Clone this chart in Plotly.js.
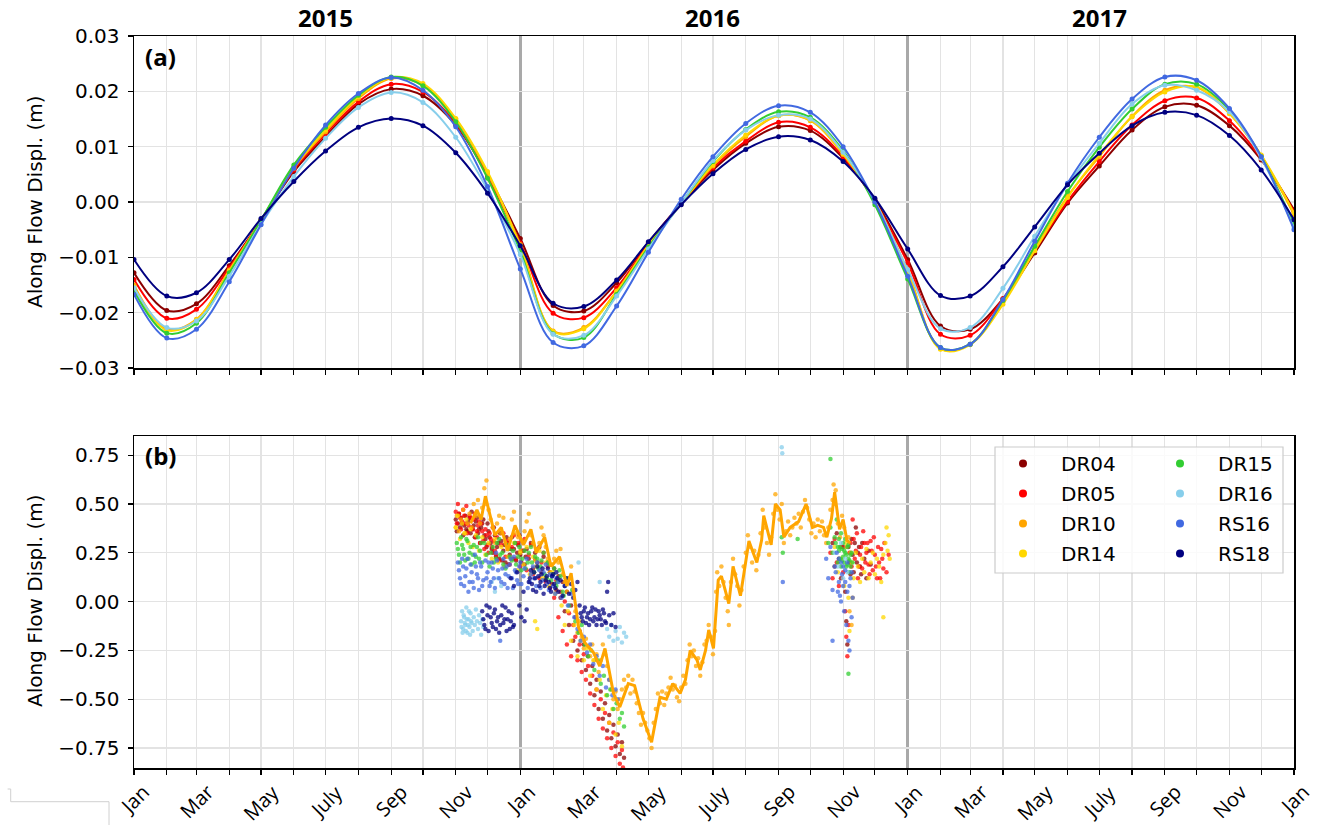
<!DOCTYPE html>
<html><head><meta charset="utf-8">
<script src="https://cdn.plot.ly/plotly-3.0.1.min.js"></script>
<style>body{margin:0;background:#fff}#chart{width:1320px;height:825px}</style>
</head><body><div id="chart"></div>
<script>
// ---------- categories ----------
const stations = ['DR04','DR05','DR10','DR14','DR15','DR16','RS16','RS18'];
const colors = ['#8b0000','#ff0000','#ffa500','#ffd700','#32cd32','#87ceeb','#4169e1','#000080'];
const years = ['2015','2016','2017'];
const yearBreaks = ['2016-01-01','2017-01-01'];
const tickLabels = ['Jan','Mar','May','July','Sep','Nov'];
const monthTicks = [];
for (let y = 2015; y <= 2017; y++) for (let m = 1; m <= 12; m++) monthTicks.push(y + '-' + String(m).padStart(2,'0') + '-01');
monthTicks.push('2018-01-01');

// ---------- panel (a): monthly seasonal displacement (m), Jan 2015 ... Jan 2018 ----------
const a_DR04 = [-0.0128,-0.0196,-0.0184,-0.0115,-0.0033,0.0055,0.0118,0.0177,0.0204,0.0192,0.0139,0.0049,-0.0066,-0.0187,-0.0197,-0.0146,-0.0073,-0.0003,0.0058,0.0106,0.0136,0.0129,0.0079,0.0004,-0.0104,-0.0224,-0.0230,-0.0175,-0.0092,-0.0002,0.0065,0.0130,0.0172,0.0175,0.0138,0.0076,-0.0014];
const a_DR05 = [-0.0140,-0.0210,-0.0194,-0.0119,-0.0033,0.0058,0.0123,0.0181,0.0213,0.0199,0.0142,0.0046,-0.0074,-0.0201,-0.0209,-0.0155,-0.0076,-0.0002,0.0062,0.0110,0.0144,0.0135,0.0082,0.0001,-0.0110,-0.0239,-0.0241,-0.0175,-0.0088,0.0001,0.0073,0.0139,0.0183,0.0188,0.0147,0.0079,-0.0017];
const a_DR10 = [-0.0150,-0.0230,-0.0212,-0.0123,-0.0033,0.0061,0.0127,0.0187,0.0223,0.0211,0.0150,0.0052,-0.0077,-0.0233,-0.0227,-0.0161,-0.0078,-0.0003,0.0065,0.0118,0.0156,0.0147,0.0086,0.0001,-0.0125,-0.0265,-0.0257,-0.0180,-0.0085,0.0010,0.0082,0.0155,0.0202,0.0207,0.0160,0.0084,-0.0023];
const a_DR14 = [-0.0153,-0.0232,-0.0213,-0.0125,-0.0033,0.0063,0.0130,0.0190,0.0225,0.0214,0.0151,0.0055,-0.0080,-0.0234,-0.0229,-0.0162,-0.0079,-0.0003,0.0067,0.0121,0.0156,0.0148,0.0087,0.0001,-0.0127,-0.0266,-0.0258,-0.0185,-0.0088,0.0008,0.0085,0.0154,0.0199,0.0208,0.0160,0.0085,-0.0020];
const a_DR15 = [-0.0160,-0.0237,-0.0219,-0.0128,-0.0033,0.0067,0.0135,0.0193,0.0226,0.0210,0.0145,0.0043,-0.0089,-0.0238,-0.0245,-0.0167,-0.0082,-0.0002,0.0073,0.0131,0.0163,0.0153,0.0093,-0.0005,-0.0139,-0.0263,-0.0257,-0.0178,-0.0080,0.0019,0.0099,0.0168,0.0213,0.0213,0.0166,0.0082,-0.0041];
const a_DR16 = [-0.0155,-0.0227,-0.0215,-0.0134,-0.0040,0.0046,0.0115,0.0171,0.0198,0.0180,0.0117,0.0022,-0.0095,-0.0239,-0.0241,-0.0170,-0.0085,-0.0002,0.0075,0.0130,0.0157,0.0150,0.0090,0.0001,-0.0122,-0.0229,-0.0227,-0.0156,-0.0062,0.0031,0.0106,0.0177,0.0211,0.0202,0.0163,0.0079,-0.0047];
const a_RS16 = [-0.0167,-0.0246,-0.0230,-0.0144,-0.0041,0.0061,0.0139,0.0196,0.0225,0.0202,0.0136,0.0028,-0.0121,-0.0254,-0.0260,-0.0188,-0.0091,0.0005,0.0082,0.0142,0.0174,0.0162,0.0100,0.0000,-0.0134,-0.0263,-0.0257,-0.0176,-0.0071,0.0034,0.0117,0.0186,0.0226,0.0220,0.0169,0.0082,-0.0050];
const a_RS18 = [-0.0104,-0.0170,-0.0164,-0.0104,-0.0030,0.0037,0.0092,0.0135,0.0151,0.0138,0.0089,0.0016,-0.0079,-0.0183,-0.0189,-0.0141,-0.0072,-0.0005,0.0051,0.0095,0.0118,0.0112,0.0073,0.0007,-0.0085,-0.0169,-0.0170,-0.0117,-0.0045,0.0031,0.0088,0.0138,0.0162,0.0157,0.0120,0.0058,-0.0032];

// ---------- panel (b): [day since 2015-01-01, displacement (m)] ----------
const b_DR04 = [[304,0.42],[305,0.36],[306,0.40],[307,0.45],[308,0.38],[309,0.43],[310,0.40],[311,0.34],[312,0.39],[313,0.44],[314,0.37],[315,0.36],[316,0.41],[317,0.43],[318,0.35],[319,0.46],[320,0.37],[321,0.39],[322,0.33],[323,0.41],[324,0.43],[325,0.35],[326,0.37],[327,0.30],[328,0.38],[329,0.40],[330,0.42],[331,0.34],[332,0.32],[333,0.28],[334,0.40],[335,0.36],[336,0.33],[337,0.30],[338,0.27],[339,0.25],[340,0.38],[341,0.34],[342,0.23],[343,0.28],[344,0.30],[345,0.22],[346,0.35],[347,0.31],[348,0.21],[349,0.26],[350,0.29],[351,0.20],[352,0.33],[353,0.30],[354,0.19],[355,0.24],[356,0.27],[357,0.33],[358,0.22],[359,0.27],[360,0.30],[361,0.21],[362,0.25],[363,0.29],[364,0.34],[365,0.24],[366,0.20],[367,0.31],[368,0.26],[369,0.19],[370,0.23],[371,0.27],[373,0.22],[375,0.30],[377,0.17],[379,0.25],[381,0.20],[383,0.28],[385,0.15],[387,0.23],[389,0.12],[391,0.20],[393,0.15],[395,0.09],[397,0.17],[399,0.06],[401,0.13],[403,0.02],[405,0.10],[407,-0.05],[409,0.05],[411,-0.12],[413,-0.02],[415,-0.20],[417,-0.08],[419,-0.25],[421,-0.15],[423,-0.30],[425,-0.22],[427,-0.35],[429,-0.28],[431,-0.42],[433,-0.33],[435,-0.48],[437,-0.40],[439,-0.55],[441,-0.46],[443,-0.60],[445,-0.52],[447,-0.66],[449,-0.58],[451,-0.70],[453,-0.63],[455,-0.74],[457,-0.68],[459,-0.78],[461,-0.72],[463,-0.80],
 [660,0.30],[662,0.18],[664,0.35],[666,0.22],[668,0.12],[670,0.28],[672,0.05],[673,-0.10],[674,-0.22],[675,0.28],[676,0.20],[677,0.14],[678,0.32],[679,0.24],[680,0.15],[681,0.30],[682,0.38],[683,0.20],[684,0.25],[685,0.28],[686,0.18],[687,0.14],[688,0.30],[690,0.22],[692,0.12],[694,0.26],[696,0.19]];
const b_DR05 = [[304,0.46],[305,0.40],[306,0.50],[307,0.45],[308,0.43],[309,0.37],[310,0.41],[311,0.47],[312,0.44],[313,0.40],[314,0.49],[315,0.35],[316,0.39],[317,0.44],[318,0.43],[319,0.38],[320,0.37],[321,0.42],[322,0.45],[323,0.33],[324,0.36],[325,0.39],[326,0.41],[327,0.30],[328,0.40],[329,0.36],[330,0.31],[331,0.27],[332,0.37],[333,0.34],[334,0.29],[335,0.25],[336,0.35],[337,0.32],[338,0.28],[339,0.38],[340,0.31],[341,0.26],[342,0.24],[343,0.33],[345,0.21],[347,0.29],[349,0.35],[351,0.23],[353,0.31],[355,0.19],[357,0.28],[359,0.34],[361,0.22],[363,0.30],[365,0.18],[367,0.26],[369,0.32],[371,0.16],[373,0.24],[375,0.29],[377,0.14],[379,0.22],[381,0.27],[383,0.12],[385,0.20],[387,0.25],[389,0.10],[391,0.18],[393,0.07],[395,0.14],[397,0.02],[399,0.11],[401,-0.08],[403,0.05],[405,-0.15],[407,0.00],[409,-0.22],[411,-0.06],[413,-0.28],[415,-0.12],[417,-0.18],[419,-0.30],[421,-0.22],[423,-0.36],[425,-0.27],[427,-0.40],[429,-0.33],[431,-0.47],[433,-0.38],[435,-0.53],[437,-0.45],[439,-0.60],[441,-0.50],[443,-0.65],[445,-0.57],[447,-0.70],[449,-0.62],[451,-0.75],[453,-0.67],[455,-0.79],[457,-0.72],[459,-0.83],[461,-0.76],[462,-0.85],
 [658,0.25],[660,0.12],[662,0.32],[664,0.20],[666,0.08],[668,0.28],[670,0.15],[672,-0.05],[673,-0.18],[674,-0.28],[675,-0.12],[676,0.25],[677,0.30],[678,0.18],[679,0.42],[680,0.32],[681,0.22],[682,0.26],[683,0.35],[684,0.12],[685,0.18],[686,0.24],[687,0.28],[688,0.17],[689,0.36],[690,0.30],[691,0.20],[692,0.25],[693,0.30],[694,0.19],[695,0.14],[696,0.31],[697,0.26],[698,0.16],[699,0.33],[700,0.24],[701,0.18],[702,0.12],[703,0.28],[704,0.20],[705,0.12],[706,0.27],[707,0.22],[708,0.17],[709,0.30],[711,0.15],[713,0.24]];
const b_DR10 = [[304,0.38],[305,0.44],[307,0.36],[309,0.42],[311,0.47],[313,0.35],[315,0.40],[317,0.45],[319,0.38],[321,0.50],[323,0.44],[325,0.52],[327,0.40],[329,0.48],[331,0.58],[332,0.50],[333,0.62],[335,0.47],[337,0.42],[339,0.38],[341,0.30],[343,0.40],[345,0.44],[347,0.35],[349,0.43],[351,0.30],[353,0.23],[355,0.32],[357,0.42],[359,0.46],[361,0.35],[363,0.33],[365,0.26],[367,0.31],[369,0.36],[371,0.41],[373,0.45],[375,0.34],[377,0.30],[379,0.21],[381,0.27],[383,0.30],[385,0.38],[387,0.34],[389,0.28],[391,0.22],[393,0.15],[395,0.19],[397,0.22],[399,0.26],[401,0.20],[403,0.27],[405,0.14],[407,0.10],[409,0.05],[411,0.12],[413,0.18],[415,0.05],[417,-0.05],[419,-0.16],[421,-0.10],[423,-0.18],[425,-0.24],[427,-0.19],[429,-0.23],[431,-0.28],[433,-0.22],[435,-0.30],[437,-0.27],[439,-0.36],[441,-0.30],[443,-0.22],[445,-0.27],[447,-0.33],[449,-0.40],[451,-0.45],[453,-0.50],[455,-0.46],[457,-0.55],[459,-0.50],[461,-0.45],[463,-0.40],[465,-0.44],[467,-0.38],[469,-0.47],[471,-0.40],[473,-0.46],[475,-0.52],[477,-0.57],[479,-0.63],[481,-0.57],[483,-0.62],[485,-0.66],[487,-0.70],[489,-0.75],[491,-0.62],[493,-0.55],[495,-0.47],[497,-0.52],[499,-0.46],[501,-0.53],[503,-0.47],[505,-0.44],[507,-0.39],[509,-0.45],[511,-0.43],[513,-0.49],[515,-0.51],[517,-0.44],[519,-0.38],[521,-0.42],[523,-0.30],[525,-0.22],[527,-0.28],[529,-0.25],[531,-0.33],[533,-0.29],[535,-0.38],[537,-0.31],[539,-0.22],[541,-0.20],[543,-0.12],[545,-0.18],[547,-0.27],[549,-0.15],[550,0.05],[551,0.15],[553,0.08],[555,0.18],[557,0.10],[559,0.02],[561,-0.05],[562,-0.12],[564,0.10],[566,0.22],[568,0.14],[570,0.08],[572,-0.02],[574,0.06],[576,0.18],[578,0.25],[580,0.34],[582,0.28],[584,0.20],[586,0.26],[588,0.16],[590,0.24],[592,0.35],[594,0.47],[596,0.38],[598,0.30],[600,0.24],[602,0.33],[604,0.45],[606,0.55],[608,0.47],[610,0.42],[612,0.50],[614,0.30],[616,0.36],[618,0.41],[620,0.34],[622,0.38],[624,0.43],[626,0.40],[628,0.45],[630,0.38],[632,0.46],[634,0.52],[636,0.48],[638,0.42],[640,0.35],[642,0.40],[644,0.33],[646,0.42],[648,0.36],[650,0.41],[652,0.34],[654,0.30],[656,0.38],[658,0.47],[660,0.52],[661,0.60],[662,0.50],[663,0.57],[665,0.40],[667,0.33],[669,0.44],[671,0.38],[673,0.28],[675,0.33],[676,-0.05],[677,0.25],[678,-0.12],[679,0.02]];
const b_DR10_line = [[318,0.40],[324,0.47],[328,0.42],[332,0.54],[341,0.34],[347,0.38],[353,0.26],[360,0.39],[368,0.29],[375,0.37],[380,0.25],[388,0.33],[394,0.18],[402,0.23],[409,0.08],[413,0.145],[420,-0.13],[426,-0.21],[434,-0.26],[440,-0.33],[445,-0.24],[453,-0.47],[459,-0.54],[467,-0.42],[473,-0.43],[481,-0.60],[489,-0.72],[497,-0.49],[503,-0.50],[509,-0.42],[516,-0.47],[521,-0.40],[525.5,-0.25],[532,-0.30],[535,-0.35],[540,-0.25],[543,-0.145],[547.5,-0.24],[552,0.11],[555,0.13],[562,-0.01],[566,0.18],[573,0.03],[581,0.31],[585,0.25],[588.5,0.20],[593,0.315],[595,0.44],[602,0.29],[606,0.50],[610.5,0.47],[614,0.33],[620,0.38],[628,0.41],[635,0.50],[641,0.38],[646,0.39],[651.5,0.38],[654.6,0.33],[659,0.425],[662,0.56],[666.6,0.37],[670,0.42],[673.5,0.315],[676.7,0.30]];
const b_DR14 = [[304,0.38],[306,0.44],[308,0.32],[310,0.40],[312,0.35],[314,0.42],[316,0.30],[318,0.37],[320,0.28],[323,0.34],[326,0.26],[329,0.33],[332,0.24],[335,0.30],[338,0.22],[341,0.32],[344,0.20],[347,0.28],[350,0.18],[353,0.27],[356,0.22],[359,0.30],[362,0.16],[365,0.25],[368,0.19],[371,0.28],[374,0.14],[377,0.23],[379,-0.10],[380,0.18],[381,-0.14],[383,0.26],[386,0.12],[389,0.20],[392,0.08],[395,0.15],[398,0.04],[401,0.12],[404,-0.02],[407,-0.12],[410,-0.05],[413,-0.20],[416,-0.12],[419,-0.28],[422,-0.20],[425,-0.30],[428,-0.24],[431,-0.38],[434,-0.30],[437,-0.45],[440,-0.40],[443,-0.55],[446,-0.48],[449,-0.62],[452,-0.55],[455,-0.68],[458,-0.62],[461,-0.74],
 [662,0.28],[665,0.15],[668,0.22],[671,0.08],[673,0.30],[675,0.02],[676,-0.15],[678,0.20],[680,0.12],[682,0.25],[684,0.18],[686,0.10],[688,0.22],[690,0.15],[692,0.27],[694,0.12],[696,0.20],[698,0.25],[700,0.14],[702,0.22],[704,0.18],[706,0.10],[708,0.24],[708,-0.08],[710,0.30],[711,0.38],[712,0.26],[713,0.34],[714,0.22]];
const b_DR15 = [[305,0.30],[306,0.27],[307,0.24],[308,0.20],[309,0.33],[310,0.29],[311,0.27],[312,0.24],[313,0.21],[314,0.32],[315,0.31],[316,0.22],[317,0.25],[318,0.28],[319,0.19],[320,0.24],[321,0.29],[322,0.20],[323,0.23],[324,0.28],[325,0.33],[326,0.22],[327,0.26],[328,0.30],[329,0.20],[331,0.30],[333,0.24],[336,0.18],[337,0.25],[339,0.28],[340,0.20],[342,0.22],[343,0.30],[345,0.32],[346,0.24],[348,0.25],[349,0.19],[351,0.17],[352,0.29],[354,0.27],[355,0.23],[357,0.21],[358,0.26],[360,0.30],[361,0.19],[363,0.23],[364,0.28],[366,0.16],[367,0.22],[369,0.26],[370,0.17],[372,0.20],[373,0.25],[375,0.28],[376,0.20],[378,0.15],[379,0.23],[381,0.22],[382,0.17],[384,0.18],[385,0.21],[387,0.25],[388,0.14],[390,0.12],[391,0.20],[393,0.19],[394,0.11],[396,0.14],[397,0.17],[399,0.08],[400,0.10],[402,0.16],[403,0.13],[405,0.05],[406,0.03],[408,0.12],[411,-0.02],[414,0.06],[417,-0.10],[420,-0.16],[423,-0.12],[426,-0.22],[429,-0.28],[432,-0.25],[435,-0.35],[438,-0.30],[441,-0.42],[444,-0.38],[447,-0.48],[450,-0.45],[453,-0.55],[456,-0.52],[459,-0.60],[461,-0.57],[463,-0.64],
 [612,0.33],[613,0.25],[627,0.32],[656,0.30],[658,0.38],[658,0.73],[660,0.25],[662,0.33],[663,0.30],[664,0.42],[665,0.28],[665,0.20],[666,0.26],[666,0.32],[667,0.22],[667,0.28],[668,0.35],[668,0.18],[669,0.27],[669,0.21],[670,0.30],[670,0.23],[671,0.20],[671,0.26],[672,0.25],[672,0.32],[673,0.18],[673,0.24],[674,0.28],[674,0.19],[675,0.22],[675,0.29],[675,-0.37],[676,0.15],[676,0.21],[677,0.24],[677,0.18],[678,0.25],[679,0.20]];
const b_DR16 = [[309,-0.10],[309.5,-0.13],[310,-0.05],[310.5,-0.16],[311,-0.14],[311.5,-0.07],[312,-0.08],[312.5,-0.11],[313,-0.12],[313.5,-0.15],[314,-0.03],[314.5,-0.09],[315,-0.16],[315.5,-0.12],[316,-0.09],[316.5,-0.05],[317,-0.13],[317.5,-0.17],[318,-0.06],[318.5,-0.10],[319,-0.11],[320,-0.15],[321,-0.08],[322,-0.12],[323,-0.04],[324,-0.10],[325,-0.14],[326,-0.07],[327,-0.11],[328,-0.17],[329,-0.09],[330,-0.13],[338,0.10],[341,0.05],[344,0.12],[347,0.08],[420,0.20],[440,0.10],[447,-0.14],[449,-0.18],[451,-0.12],[453,-0.20],[455,-0.15],[457,-0.19],[459,-0.13],[461,-0.21],[463,-0.16],[465,-0.18],
 [612,0.79],[612.5,0.76],[662,0.25],[665,0.18],[668,0.30],[670,0.12],[672,0.22],[674,0.15]];
const b_RS16 = [[306,0.20],[307,0.16],[308,0.12],[309,0.09],[310,0.22],[311,0.18],[312,0.08],[313,0.13],[314,0.17],[315,0.22],[316,0.05],[317,0.10],[318,0.19],[319,0.15],[320,0.10],[321,0.07],[322,0.24],[323,0.18],[324,0.14],[325,0.12],[326,0.06],[327,0.20],[328,0.18],[329,0.08],[330,0.11],[332,0.21],[333,0.12],[334,0.15],[335,0.20],[336,0.08],[337,0.10],[338,0.20],[339,0.17],[340,0.12],[341,0.07],[342,0.25],[343,0.21],[344,0.16],[345,0.12],[346,-0.20],[347,0.10],[348,0.17],[349,0.22],[350,0.09],[351,0.14],[352,0.18],[353,0.07],[354,0.13],[355,0.19],[356,0.22],[357,0.12],[358,0.07],[359,0.23],[360,0.16],[361,0.15],[362,0.11],[363,0.09],[364,0.18],[365,0.20],[366,0.09],[368,0.13],[369,0.17],[371,0.22],[372,0.07],[374,0.10],[375,0.14],[377,0.18],[378,0.12],[380,0.08],[381,0.20],[383,0.16],[384,0.07],[386,0.11],[387,0.15],[389,0.19],[390,0.09],[392,0.06],[393,0.14],[395,0.13],[396,0.08],[398,0.04],[399,0.12],[401,0.10],[404,0.02],[407,0.08],[410,-0.02],[413,0.04],[416,-0.08],[419,-0.14],[422,-0.20],[425,-0.18],[428,-0.26],[431,-0.22],[434,-0.32],[437,-0.28],[440,-0.38],[443,-0.33],[446,-0.44],[449,-0.40],[452,-0.48],[455,-0.45],[457,-0.50],
 [613,0.10],[654,0.22],[656,0.12],[658,0.28],[660,0.06],[660,-0.20],[662,0.18],[663,0.15],[664,0.25],[665,0.05],[666,0.10],[666,0.22],[667,0.03],[668,0.20],[668,0.00],[669,0.14],[670,0.08],[670,0.18],[671,-0.05],[672,0.16],[672,0.10],[673,-0.12],[674,0.05],[674,0.20],[675,-0.20],[676,-0.25],[676,0.08],[677,0.12],[678,-0.08],[678,0.15],[679,0.02]];
const b_RS18 = [[329,-0.05],[330,-0.09],[331,-0.12],[332,-0.14],[333,-0.02],[334,-0.07],[335,-0.15],[336,-0.03],[337,-0.08],[338,-0.11],[339,-0.13],[340,-0.06],[341,-0.04],[342,-0.14],[343,-0.10],[344,-0.08],[345,-0.16],[346,-0.12],[347,-0.07],[348,-0.02],[349,-0.11],[350,-0.09],[351,-0.03],[352,-0.15],[353,-0.09],[354,-0.05],[355,-0.14],[356,-0.10],[357,-0.06],[358,-0.13],[359,-0.12],
 [356,0.12],[359,0.08],[362,0.15],[364,-0.02],[366,-0.08],[368,0.05],[369,-0.10],[371,-0.04],[373,0.10],[374,0.12],[375,0.16],[376,0.09],[377,0.06],[378,0.15],[379,0.12],[380,0.05],[381,0.18],[382,0.13],[383,0.08],[384,0.10],[385,0.14],[386,0.17],[387,0.04],[388,0.08],[389,0.11],[390,0.13],[391,0.17],[392,0.10],[393,0.07],[394,0.05],[395,0.13],[396,0.14],[397,0.09],[398,0.07],[399,0.15],[400,0.12],[401,0.05],[403,0.11],[405,0.03],[407,0.08],[409,0.12],[411,0.04],[413,0.09],[415,0.02],[417,0.06],[419,0.10],
 [421,-0.02],[422,-0.06],[423,-0.08],[424,-0.10],[425,-0.05],[426,-0.03],[427,-0.11],[428,-0.08],[429,-0.06],[430,-0.12],[431,-0.09],[432,-0.05],[433,-0.03],[434,-0.10],[435,-0.08],[436,-0.04],[437,-0.12],[438,-0.09],[439,-0.05],[440,-0.07],[441,-0.09],[442,-0.12],[443,-0.04],[444,-0.06],[445,-0.10],[446,-0.11],[447,0.05],[448,0.10],[449,-0.07],[451,-0.12],[453,-0.06],[455,-0.13]];

const panelA = {DR04:a_DR04, DR05:a_DR05, DR10:a_DR10, DR14:a_DR14, DR15:a_DR15, DR16:a_DR16, RS16:a_RS16, RS18:a_RS18};
const panelB = {DR04:b_DR04, DR05:b_DR05, DR10:b_DR10, DR14:b_DR14, DR15:b_DR15, DR16:b_DR16, RS16:b_RS16, RS18:b_RS18};

// ---------- helpers ----------
const base = Date.UTC(2015,0,1);
const dayToDate = d => new Date(base + Math.round(d*86400000)).toISOString().slice(0,19).replace('T',' ');
const px2x = px => (px - 134) / 1160;      // paper coords for decorations
const px2y = py => (768 - py) / 732;

const traces = [];
stations.forEach((s,i) => {
  traces.push({type:'scatter', mode:'lines+markers', x:monthTicks, y:panelA[s], xaxis:'x', yaxis:'y',
    line:{color:colors[i], width:2, shape:'spline', smoothing:1}, marker:{size:5, color:colors[i]},
    showlegend:false, hoverinfo:'skip'});
});
stations.forEach((s,i) => {
  const pts = panelB[s];
  traces.push({type:'scatter', mode:'markers', x:pts.map(p=>dayToDate(p[0])), y:pts.map(p=>p[1]),
    xaxis:'x2', yaxis:'y2', marker:{size:4.5, color:colors[i], opacity:0.75, line:{width:0}},
    showlegend:false, hoverinfo:'skip'});
});
traces.push({type:'scatter', mode:'lines', x:b_DR10_line.map(p=>dayToDate(p[0])), y:b_DR10_line.map(p=>p[1]),
  xaxis:'x2', yaxis:'y2', line:{color:colors[2], width:3}, showlegend:false, hoverinfo:'skip'});
stations.forEach((s,i) => {
  traces.push({type:'scatter', mode:'markers', x:[null], y:[null], xaxis:'x2', yaxis:'y2', name:s,
    legendgroup:s, legend: i < 4 ? 'legend' : 'legend2', marker:{size:8, color:colors[i]}, showlegend:true});
});

const gridC = '#e3e3e3';
const xCommon = {type:'date', range:['2015-01-01','2018-01-01'], tickmode:'array', tickvals:yearBreaks, ticks:'outside', ticklen:5,
  tickwidth:1.2, tickcolor:'#000', showgrid:true, gridcolor:'#a9a9a9', gridwidth:2.5, showline:true, mirror:true,
  linecolor:'#000', linewidth:1.5, zeroline:false, showticklabels:false,
  minor:{tickmode:'array', tickvals:monthTicks, ticks:'outside', ticklen:5, tickwidth:1.2, tickcolor:'#000',
    showgrid:true, gridcolor:gridC, gridwidth:1.2}};
const yCommon = {ticks:'outside', ticklen:5, tickwidth:1.2, tickcolor:'#000', showgrid:true, gridcolor:gridC,
  gridwidth:1.2, showline:true, mirror:true, linecolor:'#000', linewidth:1.5, zeroline:false, tickformat:'.2f',
  ticklabelstandoff:4, tickfont:{family:'DejaVu Sans', size:20, color:'#000'}};

const annotations = [];
years.forEach((y,i) => annotations.push({text:'<b>'+y+'</b>', x:y+'-07-01', xref:'x', y:1, yref:'paper',
  yanchor:'bottom', xanchor:'center', yshift:0, showarrow:false, font:{family:'Open Sans', size:24, color:'#000'}}));
annotations.push({text:'<b>(a)</b>', x:0.008, xref:'x domain', y:0.937, yref:'y domain', xanchor:'left', yanchor:'middle',
  showarrow:false, font:{family:'Open Sans', size:24, color:'#000'}});
annotations.push({text:'<b>(b)</b>', x:0.008, xref:'x2 domain', y:0.94, yref:'y2 domain', xanchor:'left', yanchor:'middle',
  showarrow:false, font:{family:'Open Sans', size:24, color:'#000'}});
[202, 601].forEach(cy => annotations.push({text:'Along Flow Displ. (m)', textangle:-90, x:px2x(35), xref:'paper',
  y:px2y(cy), yref:'paper', xanchor:'center', yanchor:'middle', showarrow:false,
  font:{family:'DejaVu Sans', size:20, color:'#000'}}));
monthTicks.forEach((d,i) => {
  if (i % 2 === 0) annotations.push({text:tickLabels[(i/2)%6], x:d, xref:'x2', y:0, yref:'paper', yshift:-8,
    textangle:-45, xanchor:'center', yanchor:'top', showarrow:false, font:{family:'Open Sans', size:20, color:'#000'}});
});

const shapes = [];
shapes.push({type:'rect', xref:'paper', yref:'paper', x0:px2x(995), x1:px2x(1283), y0:px2y(573), y1:px2y(447),
  line:{color:'#cccccc', width:1.2}, fillcolor:'rgba(255,255,255,0.8)', layer:'above'});
shapes.push({type:'path', xref:'paper', yref:'paper',
  path:'M'+px2x(7.6)+','+px2y(789)+' L'+px2x(10.7)+','+px2y(789)+' L'+px2x(10.7)+','+px2y(801.7)+' L'+px2x(109)+','+px2y(801.7)+' L'+px2x(109)+','+px2y(825),
  line:{color:'#d0d0d0', width:1}, layer:'above'});

const legCommon = {xanchor:'left', yanchor:'top', y:px2y(444), bgcolor:'rgba(0,0,0,0)', borderwidth:0,
  font:{family:'DejaVu Sans', size:20, color:'#000'}, itemwidth:66, tracegroupgap:1, traceorder:'grouped'};

const layout = {
  width:1320, height:825, margin:{l:134, r:26, t:36, b:57}, paper_bgcolor:'#fff', plot_bgcolor:'#fff',
  font:{family:'DejaVu Sans', size:20, color:'#000'},
  xaxis: Object.assign({}, xCommon, {anchor:'y', domain:[0,1]}),
  xaxis2: Object.assign({}, xCommon, {anchor:'y2', domain:[0,1]}),
  yaxis: Object.assign({}, yCommon, {anchor:'x', domain:[px2y(368), 1], range:[-0.03,0.03], tickvals:[-0.03,-0.02,-0.01,0,0.01,0.02,0.03]}),
  yaxis2: Object.assign({}, yCommon, {anchor:'x2', domain:[0, px2y(436)], range:[-0.852,0.848], tickvals:[-0.75,-0.5,-0.25,0,0.25,0.5,0.75]}),
  legend: Object.assign({}, legCommon, {x:px2x(985)}),
  legend2: Object.assign({}, legCommon, {x:px2x(1142)}),
  annotations, shapes, showlegend:true
};
Plotly.newPlot('chart', traces, layout, {displayModeBar:false, staticPlot:true});
</script></body></html>
